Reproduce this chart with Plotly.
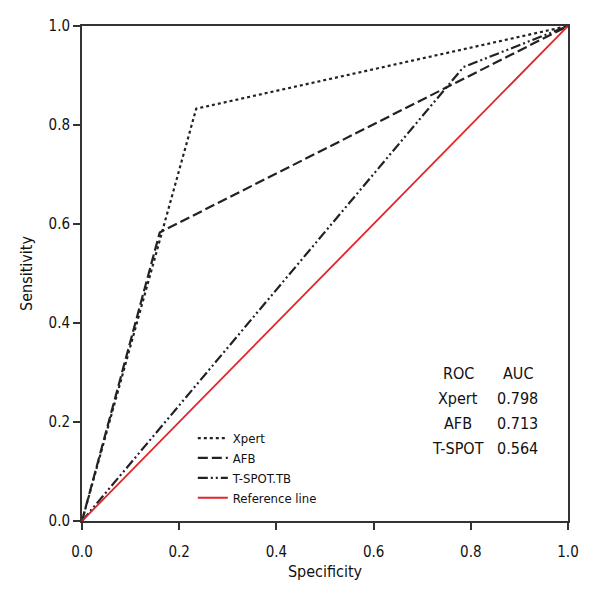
import plotly.graph_objects as go

xpert_x = [0.0, 0.235, 1.0]
xpert_y = [0.0, 0.833, 1.0]
afb_x = [0.0, 0.16, 1.0]
afb_y = [0.0, 0.583, 1.0]
tspot_x = [0.0, 0.785, 1.0]
tspot_y = [0.0, 0.917, 1.0]
ref_x = [0.0, 1.0]
ref_y = [0.0, 1.0]

roc_names = ["Xpert", "AFB", "T-SPOT"]
auc_values = ["0.798", "0.713", "0.564"]
tick_vals = [0.0, 0.2, 0.4, 0.6, 0.8, 1.0]
tick_text = ["0.0", "0.2", "0.4", "0.6", "0.8", "1.0"]

FONT = "DejaVu Sans Condensed, sans-serif"

fig = go.Figure()
fig.add_trace(go.Scatter(x=xpert_x, y=xpert_y, mode="lines", name="Xpert",
                         line=dict(color="#222222", width=2.2, dash="dot")))
fig.add_trace(go.Scatter(x=afb_x, y=afb_y, mode="lines", name="AFB",
                         line=dict(color="#222222", width=2.2, dash="10px,4px")))
fig.add_trace(go.Scatter(x=tspot_x, y=tspot_y, mode="lines", name="T-SPOT.TB",
                         line=dict(color="#222222", width=2.2, dash="10px,3px,2px,3px,2px,3px")))
fig.add_trace(go.Scatter(x=ref_x, y=ref_y, mode="lines", name="Reference line",
                         line=dict(color="#e0262b", width=1.8)))

# AUC table
rows = [("ROC", "AUC")] + list(zip(roc_names, auc_values))
for i, (a, b) in enumerate(rows):
    yv = 0.298 - i * 0.0505
    fig.add_annotation(x=0.774, y=yv, xref="x", yref="y", text=a, showarrow=False,
                       xanchor="center", yanchor="middle",
                       font=dict(family=FONT, size=16, color="#111"))
    fig.add_annotation(x=0.897, y=yv, xref="x", yref="y", text=b, showarrow=False,
                       xanchor="center", yanchor="middle",
                       font=dict(family=FONT, size=16, color="#111"))

axis_common = dict(
    range=[0, 1], tickvals=tick_vals, ticktext=tick_text, automargin=False,
    showgrid=False, zeroline=False, showline=True, mirror=True,
    linecolor="#333333", linewidth=2, ticks="outside", ticklen=7,
    tickwidth=2, tickcolor="#333333",
    tickfont=dict(family=FONT, size=15, color="#111"),
)
fig.update_xaxes(**axis_common, ticklabelstandoff=9,
                 title=dict(text="Specificity", standoff=6,
                 font=dict(family=FONT, size=16, color="#111")))
fig.update_yaxes(**axis_common,
                 title=dict(text="Sensitivity", standoff=12,
                 font=dict(family=FONT, size=16, color="#111")))

fig.update_layout(
    width=600, height=600,
    margin=dict(l=74, r=40, t=18, b=87),
    plot_bgcolor="white", paper_bgcolor="white",
    legend=dict(x=0.228, y=0.016, xanchor="left", yanchor="bottom",
                bgcolor="rgba(0,0,0,0)", font=dict(family=FONT, size=13, color="#111"),
                tracegroupgap=0, itemwidth=30),
    showlegend=True,
)
fig.write_html("out.html")
